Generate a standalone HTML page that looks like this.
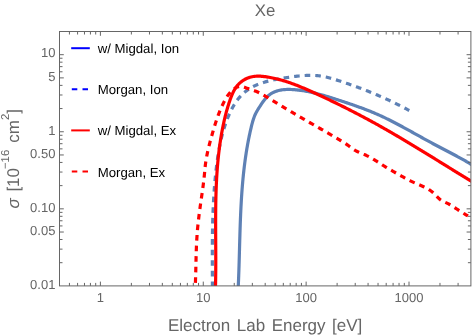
<!DOCTYPE html>
<html><head><meta charset="utf-8"><title>Xe</title><style>html,body{margin:0;padding:0;background:#fff}body{width:476px;height:336px;overflow:hidden;font-family:"Liberation Sans",sans-serif}</style></head><body>
<svg width="476" height="336" viewBox="0 0 476 336" style="display:block;will-change:transform">
<rect width="476" height="336" fill="#fff"/>
<defs><clipPath id="c"><rect x="59.50" y="31.50" width="411.40" height="254.40"/></clipPath></defs>
<g clip-path="url(#c)" fill="none" stroke-width="3.20" stroke-linejoin="round">
<path d="M237.99 291.93 L238.05 290.86 L238.10 289.79 L238.16 288.72 L238.21 287.65 L238.26 286.58 L238.30 285.51 L238.35 284.44 L238.40 283.37 L238.44 282.30 L238.49 281.23 L238.53 280.16 L238.57 279.08 L238.61 278.01 L238.66 276.94 L238.69 275.86 L238.73 274.79 L238.77 273.71 L238.81 272.64 L238.85 271.56 L238.88 270.49 L238.92 269.41 L238.95 268.33 L238.99 267.26 L239.02 266.18 L239.05 265.10 L239.08 264.03 L239.12 262.95 L239.15 261.87 L239.18 260.79 L239.21 259.71 L239.24 258.63 L239.27 257.56 L239.30 256.48 L239.33 255.40 L239.36 254.32 L239.39 253.24 L239.42 252.16 L239.45 251.08 L239.48 250.00 L239.51 248.92 L239.53 247.84 L239.56 246.75 L239.59 245.67 L239.62 244.59 L239.65 243.51 L239.68 242.43 L239.71 241.35 L239.74 240.27 L239.77 239.18 L239.80 238.10 L239.84 237.02 L239.87 235.94 L239.90 234.86 L239.93 233.77 L239.96 232.69 L240.00 231.61 L240.03 230.53 L240.07 229.45 L240.10 228.36 L240.14 227.28 L240.18 226.20 L240.21 225.12 L240.25 224.04 L240.29 222.95 L240.33 221.87 L240.37 220.79 L240.41 219.71 L240.45 218.63 L240.50 217.54 L240.54 216.46 L240.59 215.38 L240.63 214.30 L240.68 213.22 L240.73 212.14 L240.78 211.05 L240.83 209.97 L240.89 208.89 L240.94 207.81 L240.99 206.73 L241.05 205.65 L241.11 204.57 L241.17 203.49 L241.23 202.41 L241.29 201.33 L241.35 200.25 L241.42 199.17 L241.49 198.09 L241.55 197.01 L241.62 195.93 L241.70 194.86 L241.77 193.78 L241.85 192.70 L241.92 191.62 L242.00 190.55 L242.08 189.47 L242.16 188.39 L242.25 187.31 L242.34 186.24 L242.42 185.16 L242.51 184.09 L242.61 183.01 L242.70 181.94 L242.80 180.86 L242.90 179.79 L243.00 178.71 L243.10 177.64 L243.21 176.57 L243.31 175.50 L243.42 174.42 L243.54 173.35 L243.65 172.28 L243.77 171.21 L243.89 170.14 L244.01 169.07 L244.14 168.00 L244.26 166.93 L244.39 165.86 L244.53 164.79 L244.66 163.72 L244.80 162.66 L244.94 161.59 L245.08 160.52 L245.23 159.46 L245.38 158.39 L245.53 157.33 L245.69 156.26 L245.84 155.20 L246.00 154.14 L246.17 153.07 L246.33 152.01 L246.50 150.95 L246.68 149.89 L246.85 148.83 L247.03 147.77 L247.22 146.71 L247.40 145.65 L247.59 144.59 L247.78 143.54 L247.98 142.48 L248.18 141.42 L248.38 140.37 L248.59 139.31 L248.80 138.26 L249.01 137.21 L249.22 136.15 L249.44 135.10 L249.67 134.05 L249.90 133.00 L250.13 131.95 L250.36 130.90 L250.60 129.85 L250.84 128.81 L251.09 127.76 L251.34 126.71 L251.59 125.67 L251.85 124.63 L252.12 123.59 L252.40 122.55 L252.69 121.52 L253.00 120.49 L253.32 119.47 L253.66 118.46 L254.01 117.46 L254.39 116.46 L254.80 115.48 L255.22 114.51 L255.68 113.55 L256.16 112.60 L256.67 111.66 L257.21 110.73 L257.76 109.80 L258.33 108.87 L258.92 107.93 L259.52 106.99 L260.12 106.04 L260.74 105.09 L261.37 104.13 L262.01 103.18 L262.67 102.23 L263.34 101.30 L264.02 100.39 L264.73 99.50 L265.45 98.63 L266.19 97.80 L266.95 97.00 L267.73 96.25 L268.53 95.54 L269.36 94.88 L270.21 94.26 L271.08 93.69 L271.97 93.16 L272.87 92.67 L273.80 92.22 L274.74 91.81 L275.70 91.44 L276.67 91.10 L277.66 90.80 L278.66 90.54 L279.68 90.30 L280.70 90.10 L281.74 89.92 L282.78 89.78 L283.84 89.66 L284.90 89.57 L285.97 89.50 L287.05 89.46 L288.13 89.44 L289.22 89.44 L290.31 89.46 L291.40 89.49 L292.50 89.55 L293.59 89.62 L294.69 89.71 L295.79 89.80 L296.88 89.92 L297.97 90.04 L299.06 90.17 L300.14 90.31 L301.23 90.46 L302.31 90.62 L303.38 90.79 L304.45 90.96 L305.53 91.15 L306.59 91.34 L307.66 91.54 L308.72 91.75 L309.78 91.97 L310.84 92.19 L311.89 92.42 L312.95 92.66 L314.00 92.91 L315.05 93.16 L316.10 93.41 L317.14 93.68 L318.19 93.94 L319.23 94.22 L320.27 94.50 L321.31 94.78 L322.34 95.07 L323.38 95.36 L324.41 95.66 L325.45 95.96 L326.48 96.27 L327.51 96.58 L328.54 96.89 L329.57 97.21 L330.60 97.52 L331.63 97.85 L332.65 98.17 L333.68 98.50 L334.71 98.83 L335.73 99.16 L336.76 99.49 L337.78 99.82 L338.81 100.16 L339.83 100.49 L340.85 100.83 L341.88 101.17 L342.90 101.51 L343.93 101.85 L344.95 102.19 L345.97 102.53 L347.00 102.87 L348.02 103.21 L349.04 103.56 L350.06 103.91 L351.08 104.26 L352.11 104.61 L353.13 104.96 L354.14 105.32 L355.16 105.67 L356.18 106.03 L357.20 106.39 L358.21 106.76 L359.23 107.13 L360.24 107.50 L361.25 107.87 L362.27 108.24 L363.28 108.62 L364.29 109.00 L365.29 109.39 L366.30 109.77 L367.30 110.17 L368.31 110.56 L369.31 110.96 L370.31 111.36 L371.31 111.77 L372.31 112.17 L373.30 112.59 L374.30 113.01 L375.29 113.43 L376.28 113.85 L377.26 114.28 L378.25 114.72 L379.23 115.16 L380.22 115.60 L381.20 116.05 L382.17 116.51 L383.15 116.96 L384.12 117.42 L385.10 117.89 L386.07 118.36 L387.04 118.83 L388.01 119.30 L388.97 119.78 L389.94 120.26 L390.90 120.75 L391.86 121.24 L392.82 121.73 L393.78 122.22 L394.74 122.72 L395.70 123.22 L396.66 123.72 L397.61 124.22 L398.57 124.73 L399.52 125.24 L400.47 125.75 L401.42 126.26 L402.37 126.77 L403.32 127.29 L404.27 127.81 L405.22 128.33 L406.17 128.85 L407.11 129.37 L408.06 129.89 L409.01 130.41 L409.95 130.94 L410.90 131.46 L411.84 131.99 L412.79 132.51 L413.73 133.04 L414.68 133.57 L415.62 134.09 L416.57 134.62 L417.51 135.15 L418.46 135.67 L419.40 136.20 L420.35 136.72 L421.29 137.25 L422.24 137.77 L423.18 138.30 L424.13 138.82 L425.07 139.34 L426.02 139.86 L426.97 140.38 L427.92 140.90 L428.86 141.42 L429.81 141.94 L430.76 142.45 L431.71 142.96 L432.66 143.47 L433.62 143.98 L434.57 144.49 L435.52 144.99 L436.48 145.49 L437.43 146.00 L438.38 146.50 L439.34 147.00 L440.30 147.50 L441.25 148.00 L442.21 148.50 L443.16 148.99 L444.12 149.49 L445.07 149.99 L446.03 150.49 L446.99 150.99 L447.94 151.49 L448.89 151.99 L449.85 152.49 L450.80 152.99 L451.76 153.49 L452.71 154.00 L453.66 154.50 L454.61 155.01 L455.56 155.52 L456.51 156.03 L457.46 156.54 L458.41 157.05 L459.36 157.57 L460.30 158.09 L461.24 158.61 L462.19 159.13 L463.13 159.66 L464.07 160.19 L465.01 160.73 L465.94 161.26 L466.88 161.80 L467.81 162.35 L468.74 162.89 L469.67 163.45 L470.60 164.00 L471.53 164.56 L472.45 165.13 L473.37 165.70 L474.29 166.27 L475.21 166.85 L476.13 167.43 L477.04 168.02 L477.95 168.62" stroke="#5E81B5"/>
<path d="M212.45 291.95 L212.44 291.01 L212.44 290.06 L212.44 289.11 L212.44 288.17 L212.43 287.22 L212.43 286.27 L212.42 285.32 L212.42 284.37 L212.42 283.42 L212.41 282.47 L212.41 281.52 L212.40 280.57 L212.40 279.62 L212.39 278.67 L212.39 277.72 L212.39 276.77 L212.38 275.81 L212.38 274.86 L212.37 273.91 L212.37 272.96 L212.36 272.00 L212.36 271.05 L212.36 270.10 L212.35 269.14 L212.35 268.19 L212.35 267.23 L212.34 266.28 L212.34 265.32 L212.34 264.37 L212.33 263.41 L212.33 262.45 L212.33 261.50 L212.33 260.54 L212.33 259.59 L212.32 258.63 L212.32 257.67 L212.32 256.71 L212.32 255.76 L212.32 254.80 L212.32 253.84 L212.33 252.88 L212.33 251.93 L212.33 250.97 L212.33 250.01 L212.34 249.05 L212.34 248.09 L212.34 247.13 L212.35 246.18 L212.35 245.22 L212.36 244.26 L212.37 243.30 L212.37 242.34 L212.38 241.38 L212.39 240.42 L212.40 239.46 L212.41 238.50 L212.42 237.54 L212.43 236.58 L212.44 235.62 L212.46 234.67 L212.47 233.71 L212.48 232.75 L212.50 231.79 L212.52 230.83 L212.53 229.87 L212.55 228.91 L212.57 227.95 L212.59 226.99 L212.61 226.03 L212.63 225.07 L212.65 224.11 L212.68 223.15 L212.70 222.19 L212.73 221.23 L212.75 220.28 L212.78 219.32 L212.81 218.36 L212.84 217.40 L212.87 216.44 L212.90 215.48 L212.94 214.52 L212.97 213.57 L213.01 212.61 L213.04 211.65 L213.08 210.69 L213.12 209.74 L213.16 208.78 L213.20 207.82 L213.25 206.86 L213.29 205.91 L213.34 204.95 L213.38 203.99 L213.43 203.04 L213.48 202.08 L213.53 201.13 L213.58 200.17 L213.64 199.22 L213.69 198.26 L213.75 197.31 L213.81 196.35 L213.87 195.40 L213.93 194.44 L213.99 193.49 L214.06 192.54 L214.12 191.58 L214.19 190.63 L214.26 189.68 L214.33 188.72 L214.40 187.77 L214.48 186.82 L214.55 185.87 L214.63 184.92 L214.71 183.97 L214.79 183.02 L214.87 182.07 L214.96 181.12 L215.04 180.17 L215.13 179.22 L215.22 178.27 L215.31 177.33 L215.41 176.38 L215.50 175.43 L215.60 174.49 L215.70 173.54 L215.80 172.59 L215.90 171.65 L216.01 170.70 L216.11 169.76 L216.22 168.82 L216.33 167.87 L216.45 166.93 L216.56 165.99 L216.68 165.05 L216.80 164.10 L216.92 163.16 L217.04 162.22 L217.17 161.28 L217.30 160.34 L217.43 159.40 L217.56 158.47 L217.70 157.53 L217.84 156.59 L217.99 155.65 L218.13 154.71 L218.28 153.78 L218.44 152.84 L218.60 151.91 L218.76 150.97 L218.92 150.04 L219.09 149.10 L219.26 148.17 L219.44 147.23 L219.62 146.30 L219.80 145.37 L219.99 144.44 L220.19 143.50 L220.39 142.57 L220.59 141.64 L220.80 140.71 L221.01 139.78 L221.23 138.85 L221.45 137.92 L221.68 136.99 L221.91 136.06 L222.15 135.13 L222.40 134.20 L222.64 133.27 L222.90 132.34 L223.16 131.42 L223.43 130.49 L223.70 129.56 L223.98 128.63 L224.27 127.71 L224.56 126.78 L224.86 125.85 L225.16 124.93 L225.47 124.00 L225.79 123.08 L226.12 122.15 L226.45 121.23 L226.79 120.31 L227.14 119.40 L227.49 118.48 L227.85 117.57 L228.22 116.66 L228.60 115.76 L228.99 114.86 L229.38 113.96 L229.79 113.07 L230.20 112.18 L230.62 111.31 L231.05 110.43 L231.49 109.57 L231.94 108.71 L232.39 107.85 L232.86 107.01 L233.34 106.17 L233.82 105.35 L234.32 104.53 L234.83 103.72 L235.35 102.92 L235.87 102.13 L236.41 101.35 L236.96 100.58 L237.52 99.82 L238.10 99.08 L238.68 98.34 L239.27 97.62 L239.88 96.92 L240.50 96.22 L241.13 95.54 L241.77 94.87 L242.42 94.22 L243.09 93.58 L243.77 92.95 L244.46 92.35 L245.17 91.75 L245.88 91.18 L246.61 90.62 L247.36 90.08 L248.11 89.55 L248.88 89.04 L249.66 88.54 L250.46 88.06 L251.26 87.59 L252.07 87.14 L252.90 86.71 L253.73 86.28 L254.58 85.87 L255.43 85.48 L256.29 85.09 L257.16 84.72 L258.04 84.36 L258.93 84.01 L259.82 83.68 L260.73 83.35 L261.63 83.04 L262.55 82.74 L263.47 82.44 L264.40 82.16 L265.33 81.89 L266.27 81.62 L267.21 81.37 L268.16 81.12 L269.11 80.88 L270.06 80.65 L271.02 80.43 L271.98 80.21 L272.94 80.00 L273.91 79.80 L274.88 79.60 L275.84 79.41 L276.81 79.23 L277.78 79.05 L278.76 78.87 L279.73 78.70 L280.70 78.54 L281.67 78.38 L282.64 78.22 L283.60 78.06 L284.57 77.91 L285.53 77.76 L286.49 77.62 L287.45 77.47 L288.41 77.33 L289.36 77.19 L290.31 77.05 L291.26 76.92 L292.21 76.79 L293.15 76.66 L294.10 76.53 L295.04 76.42 L295.98 76.30 L296.92 76.19 L297.85 76.09 L298.79 75.99 L299.73 75.90 L300.66 75.81 L301.60 75.73 L302.54 75.65 L303.47 75.59 L304.41 75.53 L305.35 75.48 L306.28 75.43 L307.22 75.40 L308.16 75.37 L309.10 75.35 L310.04 75.34 L310.98 75.34 L311.92 75.36 L312.87 75.38 L313.81 75.41 L314.75 75.46 L315.70 75.51 L316.64 75.58 L317.58 75.66 L318.52 75.76 L319.46 75.86 L320.40 75.98 L321.33 76.12 L322.27 76.27 L323.20 76.44 L324.13 76.62 L325.06 76.81 L325.99 77.01 L326.92 77.23 L327.85 77.46 L328.77 77.69 L329.70 77.94 L330.62 78.20 L331.54 78.46 L332.46 78.73 L333.38 79.00 L334.30 79.29 L335.22 79.57 L336.13 79.86 L337.05 80.15 L337.96 80.45 L338.88 80.75 L339.79 81.04 L340.71 81.34 L341.62 81.64 L342.53 81.94 L343.44 82.25 L344.35 82.55 L345.26 82.86 L346.17 83.17 L347.08 83.47 L347.99 83.78 L348.90 84.10 L349.80 84.41 L350.71 84.73 L351.61 85.04 L352.51 85.36 L353.42 85.68 L354.32 86.00 L355.22 86.33 L356.12 86.65 L357.02 86.98 L357.92 87.31 L358.81 87.64 L359.71 87.98 L360.60 88.31 L361.50 88.65 L362.39 88.99 L363.28 89.33 L364.17 89.68 L365.06 90.03 L365.95 90.37 L366.84 90.72 L367.73 91.08 L368.61 91.43 L369.50 91.79 L370.38 92.15 L371.26 92.51 L372.15 92.87 L373.03 93.24 L373.91 93.60 L374.79 93.97 L375.66 94.34 L376.54 94.72 L377.42 95.09 L378.29 95.47 L379.17 95.85 L380.04 96.23 L380.92 96.61 L381.79 97.00 L382.66 97.39 L383.53 97.78 L384.40 98.17 L385.27 98.57 L386.13 98.96 L387.00 99.36 L387.87 99.76 L388.73 100.17 L389.60 100.57 L390.46 100.98 L391.32 101.39 L392.19 101.80 L393.05 102.21 L393.91 102.63 L394.77 103.05 L395.63 103.47 L396.48 103.89 L397.34 104.32 L398.20 104.74 L399.05 105.17 L399.91 105.60 L400.76 106.04 L401.62 106.47 L402.47 106.91 L403.32 107.35 L404.17 107.79 L405.02 108.24 L405.87 108.69 L406.72 109.14 L407.57 109.59 L408.42 110.04 L409.27 110.50" stroke="#5E81B5" stroke-dasharray="5.6 5.0" stroke-dashoffset="5.7"/>
<path d="M215.33 291.97 L215.37 290.78 L215.41 289.58 L215.44 288.38 L215.47 287.18 L215.50 285.98 L215.53 284.78 L215.56 283.58 L215.59 282.38 L215.61 281.18 L215.63 279.98 L215.65 278.78 L215.67 277.58 L215.68 276.38 L215.70 275.18 L215.71 273.97 L215.73 272.77 L215.74 271.57 L215.75 270.37 L215.75 269.16 L215.76 267.96 L215.77 266.76 L215.77 265.55 L215.77 264.35 L215.78 263.14 L215.78 261.94 L215.78 260.73 L215.78 259.53 L215.78 258.32 L215.78 257.12 L215.77 255.91 L215.77 254.71 L215.77 253.50 L215.76 252.29 L215.76 251.09 L215.75 249.88 L215.75 248.68 L215.74 247.47 L215.74 246.26 L215.73 245.06 L215.72 243.85 L215.72 242.64 L215.71 241.43 L215.70 240.23 L215.70 239.02 L215.69 237.81 L215.68 236.60 L215.68 235.40 L215.67 234.19 L215.67 232.98 L215.66 231.77 L215.66 230.57 L215.65 229.36 L215.65 228.15 L215.65 226.94 L215.64 225.74 L215.64 224.53 L215.64 223.32 L215.64 222.11 L215.64 220.91 L215.64 219.70 L215.65 218.49 L215.65 217.28 L215.65 216.08 L215.66 214.87 L215.67 213.66 L215.68 212.46 L215.69 211.25 L215.70 210.04 L215.71 208.84 L215.72 207.63 L215.74 206.42 L215.75 205.22 L215.77 204.01 L215.79 202.80 L215.81 201.60 L215.84 200.39 L215.86 199.19 L215.89 197.98 L215.92 196.78 L215.95 195.57 L215.98 194.37 L216.02 193.16 L216.06 191.96 L216.10 190.76 L216.14 189.55 L216.18 188.35 L216.23 187.15 L216.28 185.94 L216.33 184.74 L216.38 183.54 L216.44 182.34 L216.50 181.14 L216.56 179.93 L216.62 178.73 L216.69 177.53 L216.76 176.33 L216.83 175.13 L216.91 173.93 L216.99 172.73 L217.07 171.53 L217.16 170.33 L217.25 169.14 L217.34 167.94 L217.43 166.74 L217.53 165.54 L217.63 164.35 L217.74 163.15 L217.84 161.96 L217.96 160.76 L218.07 159.56 L218.19 158.37 L218.31 157.18 L218.44 155.98 L218.57 154.79 L218.70 153.60 L218.84 152.40 L218.98 151.21 L219.13 150.02 L219.28 148.83 L219.43 147.64 L219.59 146.45 L219.76 145.26 L219.92 144.07 L220.09 142.88 L220.27 141.70 L220.45 140.51 L220.63 139.32 L220.82 138.14 L221.02 136.95 L221.22 135.77 L221.42 134.58 L221.63 133.40 L221.84 132.22 L222.06 131.04 L222.28 129.85 L222.51 128.67 L222.74 127.49 L222.98 126.31 L223.22 125.13 L223.47 123.96 L223.72 122.78 L223.98 121.60 L224.24 120.42 L224.52 119.25 L224.79 118.07 L225.08 116.90 L225.37 115.72 L225.67 114.55 L225.97 113.37 L226.28 112.20 L226.60 111.02 L226.93 109.85 L227.27 108.68 L227.61 107.50 L227.97 106.33 L228.33 105.16 L228.70 103.98 L229.08 102.81 L229.47 101.63 L229.87 100.46 L230.28 99.29 L230.70 98.12 L231.14 96.95 L231.60 95.80 L232.07 94.66 L232.57 93.53 L233.09 92.42 L233.63 91.33 L234.20 90.27 L234.80 89.23 L235.43 88.21 L236.09 87.23 L236.79 86.28 L237.53 85.37 L238.30 84.50 L239.11 83.67 L239.95 82.87 L240.82 82.12 L241.73 81.41 L242.67 80.74 L243.63 80.11 L244.62 79.53 L245.64 78.99 L246.68 78.49 L247.74 78.04 L248.83 77.64 L249.93 77.28 L251.05 76.98 L252.19 76.72 L253.34 76.51 L254.51 76.35 L255.68 76.23 L256.87 76.17 L258.07 76.14 L259.27 76.16 L260.48 76.21 L261.69 76.29 L262.91 76.40 L264.13 76.54 L265.35 76.70 L266.56 76.88 L267.77 77.07 L268.98 77.27 L270.18 77.49 L271.38 77.72 L272.58 77.96 L273.77 78.22 L274.95 78.48 L276.14 78.76 L277.32 79.05 L278.49 79.34 L279.66 79.65 L280.83 79.97 L281.99 80.30 L283.15 80.64 L284.31 80.99 L285.47 81.34 L286.62 81.71 L287.77 82.08 L288.91 82.47 L290.05 82.86 L291.19 83.25 L292.33 83.66 L293.46 84.07 L294.59 84.50 L295.72 84.92 L296.85 85.36 L297.97 85.80 L299.09 86.24 L300.21 86.70 L301.33 87.15 L302.44 87.62 L303.56 88.08 L304.67 88.56 L305.77 89.03 L306.88 89.52 L307.99 90.00 L309.09 90.49 L310.19 90.98 L311.30 91.48 L312.40 91.98 L313.49 92.48 L314.59 92.98 L315.69 93.49 L316.78 93.99 L317.88 94.50 L318.97 95.01 L320.06 95.52 L321.16 96.04 L322.25 96.55 L323.34 97.06 L324.43 97.58 L325.52 98.09 L326.60 98.61 L327.69 99.13 L328.78 99.65 L329.87 100.17 L330.95 100.69 L332.04 101.21 L333.12 101.73 L334.20 102.26 L335.29 102.78 L336.37 103.31 L337.45 103.84 L338.53 104.37 L339.61 104.90 L340.69 105.43 L341.77 105.96 L342.84 106.49 L343.92 107.03 L345.00 107.56 L346.07 108.10 L347.15 108.64 L348.22 109.18 L349.29 109.72 L350.36 110.27 L351.43 110.81 L352.51 111.36 L353.57 111.91 L354.64 112.46 L355.71 113.01 L356.78 113.56 L357.85 114.11 L358.91 114.67 L359.98 115.23 L361.04 115.79 L362.10 116.35 L363.16 116.91 L364.23 117.47 L365.29 118.04 L366.35 118.61 L367.41 119.18 L368.46 119.75 L369.52 120.32 L370.58 120.90 L371.63 121.48 L372.69 122.05 L373.74 122.63 L374.80 123.21 L375.85 123.80 L376.90 124.38 L377.95 124.97 L379.00 125.56 L380.05 126.15 L381.10 126.74 L382.15 127.33 L383.20 127.92 L384.25 128.52 L385.29 129.11 L386.34 129.71 L387.38 130.31 L388.43 130.91 L389.47 131.51 L390.52 132.11 L391.56 132.72 L392.60 133.32 L393.64 133.93 L394.68 134.54 L395.73 135.15 L396.77 135.75 L397.80 136.37 L398.84 136.98 L399.88 137.59 L400.92 138.20 L401.96 138.82 L402.99 139.43 L404.03 140.05 L405.07 140.67 L406.10 141.29 L407.14 141.91 L408.17 142.53 L409.21 143.15 L410.24 143.77 L411.27 144.39 L412.31 145.02 L413.34 145.64 L414.37 146.26 L415.40 146.89 L416.43 147.51 L417.46 148.14 L418.50 148.77 L419.53 149.40 L420.56 150.02 L421.59 150.65 L422.62 151.28 L423.64 151.91 L424.67 152.54 L425.70 153.17 L426.73 153.80 L427.76 154.44 L428.79 155.07 L429.81 155.70 L430.84 156.33 L431.87 156.96 L432.89 157.60 L433.92 158.23 L434.95 158.86 L435.97 159.50 L437.00 160.13 L438.03 160.76 L439.05 161.40 L440.08 162.03 L441.10 162.67 L442.13 163.30 L443.15 163.93 L444.18 164.57 L445.20 165.20 L446.23 165.84 L447.25 166.47 L448.28 167.10 L449.30 167.74 L450.33 168.37 L451.35 169.00 L452.38 169.64 L453.40 170.27 L454.43 170.90 L455.45 171.53 L456.48 172.17 L457.50 172.80 L458.53 173.43 L459.55 174.06 L460.58 174.69 L461.60 175.32 L462.62 175.95 L463.65 176.58 L464.68 177.21 L465.70 177.84 L466.73 178.46 L467.75 179.09 L468.78 179.72 L469.80 180.34 L470.83 180.97 L471.85 181.59 L472.88 182.22 L473.91 182.84 L474.93 183.46 L475.96 184.08 L476.99 184.70 L478.01 185.32" stroke="#ff0000"/>
<path d="M194.98 292.00 L195.05 290.80 L195.11 289.60 L195.17 288.40 L195.23 287.20 L195.28 286.00 L195.34 284.79 L195.38 283.59 L195.43 282.39 L195.47 281.19 L195.51 279.99 L195.55 278.78 L195.59 277.58 L195.62 276.38 L195.66 275.17 L195.69 273.97 L195.72 272.76 L195.75 271.56 L195.78 270.36 L195.81 269.15 L195.84 267.95 L195.86 266.74 L195.89 265.54 L195.92 264.33 L195.95 263.13 L195.97 261.92 L196.00 260.72 L196.03 259.51 L196.06 258.31 L196.09 257.10 L196.13 255.90 L196.16 254.69 L196.20 253.49 L196.23 252.29 L196.27 251.08 L196.31 249.88 L196.36 248.67 L196.40 247.47 L196.45 246.27 L196.50 245.07 L196.56 243.86 L196.62 242.66 L196.68 241.46 L196.74 240.26 L196.81 239.06 L196.88 237.86 L196.96 236.66 L197.04 235.46 L197.12 234.26 L197.21 233.06 L197.30 231.86 L197.40 230.66 L197.50 229.46 L197.61 228.27 L197.72 227.07 L197.84 225.88 L197.96 224.68 L198.09 223.48 L198.22 222.29 L198.35 221.10 L198.49 219.90 L198.63 218.71 L198.77 217.52 L198.91 216.32 L199.06 215.13 L199.21 213.94 L199.37 212.75 L199.53 211.55 L199.68 210.36 L199.84 209.17 L200.01 207.98 L200.17 206.79 L200.34 205.60 L200.50 204.41 L200.67 203.21 L200.84 202.02 L201.01 200.83 L201.18 199.64 L201.35 198.45 L201.52 197.26 L201.69 196.07 L201.86 194.88 L202.03 193.69 L202.20 192.50 L202.37 191.30 L202.53 190.11 L202.70 188.92 L202.86 187.73 L203.02 186.54 L203.18 185.34 L203.33 184.15 L203.48 182.96 L203.63 181.76 L203.77 180.57 L203.91 179.38 L204.04 178.18 L204.17 176.99 L204.29 175.79 L204.41 174.59 L204.52 173.40 L204.63 172.20 L204.74 171.01 L204.85 169.81 L204.96 168.61 L205.08 167.42 L205.21 166.22 L205.35 165.03 L205.50 163.84 L205.66 162.65 L205.83 161.45 L206.02 160.27 L206.21 159.08 L206.42 157.89 L206.64 156.71 L206.87 155.52 L207.10 154.34 L207.35 153.16 L207.60 151.98 L207.86 150.80 L208.13 149.62 L208.41 148.45 L208.69 147.27 L208.98 146.10 L209.28 144.93 L209.58 143.76 L209.88 142.59 L210.19 141.43 L210.51 140.26 L210.83 139.10 L211.15 137.94 L211.47 136.78 L211.80 135.62 L212.13 134.46 L212.46 133.31 L212.79 132.16 L213.12 131.01 L213.46 129.86 L213.80 128.71 L214.14 127.57 L214.49 126.42 L214.84 125.28 L215.19 124.14 L215.55 123.01 L215.92 121.87 L216.30 120.74 L216.68 119.61 L217.06 118.48 L217.46 117.35 L217.86 116.22 L218.28 115.10 L218.70 113.97 L219.13 112.85 L219.57 111.73 L220.02 110.61 L220.49 109.50 L220.96 108.39 L221.45 107.27 L221.95 106.16 L222.46 105.05 L222.99 103.95 L223.53 102.84 L224.09 101.75 L224.66 100.66 L225.25 99.58 L225.87 98.52 L226.51 97.47 L227.17 96.45 L227.85 95.45 L228.57 94.47 L229.31 93.53 L230.09 92.62 L230.89 91.74 L231.74 90.90 L232.61 90.11 L233.53 89.36 L234.48 88.66 L235.48 88.00 L236.51 87.41 L237.58 86.92 L238.69 86.56 L239.82 86.37 L240.98 86.39 L242.15 86.58 L243.33 86.90 L244.52 87.30 L245.71 87.73 L246.89 88.15 L248.06 88.55 L249.23 88.94 L250.38 89.32 L251.53 89.70 L252.66 90.08 L253.78 90.47 L254.90 90.89 L256.00 91.33 L257.09 91.80 L258.17 92.30 L259.25 92.83 L260.31 93.38 L261.37 93.95 L262.43 94.53 L263.48 95.12 L264.52 95.72 L265.56 96.33 L266.60 96.94 L267.64 97.55 L268.68 98.16 L269.71 98.78 L270.75 99.40 L271.78 100.02 L272.81 100.65 L273.84 101.27 L274.86 101.90 L275.89 102.53 L276.92 103.15 L277.94 103.78 L278.97 104.41 L280.00 105.04 L281.02 105.67 L282.05 106.29 L283.08 106.92 L284.11 107.54 L285.14 108.16 L286.17 108.78 L287.20 109.40 L288.23 110.02 L289.27 110.64 L290.30 111.25 L291.34 111.87 L292.37 112.48 L293.41 113.09 L294.44 113.70 L295.48 114.31 L296.52 114.92 L297.56 115.52 L298.60 116.13 L299.64 116.74 L300.68 117.34 L301.72 117.94 L302.76 118.55 L303.80 119.15 L304.84 119.75 L305.88 120.35 L306.92 120.95 L307.97 121.56 L309.01 122.16 L310.05 122.76 L311.09 123.36 L312.14 123.96 L313.18 124.55 L314.22 125.15 L315.27 125.75 L316.31 126.35 L317.35 126.95 L318.40 127.55 L319.44 128.15 L320.48 128.75 L321.52 129.35 L322.57 129.95 L323.61 130.56 L324.65 131.16 L325.69 131.76 L326.73 132.36 L327.77 132.97 L328.81 133.57 L329.85 134.18 L330.89 134.78 L331.93 135.39 L332.97 136.00 L334.01 136.61 L335.05 137.22 L336.08 137.83 L337.12 138.44 L338.16 139.05 L339.19 139.67 L340.22 140.29 L341.25 140.91 L342.28 141.54 L343.30 142.17 L344.31 142.82 L345.32 143.48 L346.32 144.16 L347.31 144.84 L348.28 145.55 L349.26 146.27 L350.22 146.99 L351.19 147.70 L352.17 148.41 L353.15 149.10 L354.15 149.76 L355.17 150.39 L356.20 150.98 L357.27 151.53 L358.35 152.04 L359.45 152.53 L360.56 153.00 L361.67 153.46 L362.79 153.91 L363.91 154.37 L365.02 154.84 L366.12 155.32 L367.21 155.84 L368.29 156.37 L369.35 156.93 L370.41 157.50 L371.45 158.09 L372.49 158.69 L373.52 159.31 L374.55 159.93 L375.57 160.57 L376.59 161.21 L377.61 161.86 L378.62 162.51 L379.63 163.17 L380.65 163.82 L381.66 164.47 L382.68 165.12 L383.70 165.76 L384.72 166.40 L385.75 167.03 L386.78 167.65 L387.81 168.27 L388.85 168.89 L389.89 169.49 L390.93 170.10 L391.97 170.70 L393.02 171.30 L394.06 171.89 L395.11 172.49 L396.15 173.08 L397.20 173.67 L398.25 174.25 L399.29 174.84 L400.34 175.43 L401.38 176.02 L402.43 176.61 L403.47 177.19 L404.51 177.78 L405.56 178.36 L406.60 178.94 L407.66 179.51 L408.72 180.07 L409.78 180.61 L410.86 181.14 L411.95 181.66 L413.04 182.16 L414.15 182.65 L415.26 183.13 L416.37 183.60 L417.49 184.07 L418.61 184.54 L419.72 185.02 L420.84 185.50 L421.94 185.98 L423.04 186.48 L424.13 186.99 L425.21 187.52 L426.28 188.07 L427.33 188.64 L428.37 189.23 L429.38 189.86 L430.38 190.51 L431.35 191.20 L432.30 191.93 L433.22 192.69 L434.11 193.50 L434.98 194.36 L435.82 195.25 L436.65 196.15 L437.48 197.05 L438.32 197.93 L439.19 198.77 L440.09 199.55 L441.05 200.25 L442.06 200.87 L443.12 201.41 L444.20 201.90 L445.31 202.38 L446.41 202.86 L447.50 203.37 L448.58 203.91 L449.63 204.49 L450.67 205.09 L451.71 205.71 L452.73 206.36 L453.74 207.01 L454.75 207.67 L455.76 208.34 L456.77 209.00 L457.78 209.66 L458.79 210.31 L459.80 210.96 L460.82 211.61 L461.84 212.25 L462.86 212.88 L463.88 213.51 L464.91 214.14 L465.94 214.76 L466.97 215.38 L468.00 215.99" stroke="#ff0000" stroke-dasharray="5.6 4.985" stroke-dashoffset="1.5"/>
</g>
<g stroke="#666666" stroke-width="1" fill="none" shape-rendering="auto">
<rect x="59.50" y="31.50" width="411.40" height="254.40"/>
<path d="M69.43 285.90 v-3.00 M69.43 31.50 v3.00 M77.58 285.90 v-3.00 M77.58 31.50 v3.00 M84.47 285.90 v-3.00 M84.47 31.50 v3.00 M90.43 285.90 v-3.00 M90.43 31.50 v3.00 M95.69 285.90 v-3.00 M95.69 31.50 v3.00 M100.40 285.90 v-4.30 M100.40 31.50 v4.30 M131.37 285.90 v-3.00 M131.37 31.50 v3.00 M149.48 285.90 v-3.00 M149.48 31.50 v3.00 M162.33 285.90 v-3.00 M162.33 31.50 v3.00 M172.30 285.90 v-3.00 M172.30 31.50 v3.00 M180.45 285.90 v-3.00 M180.45 31.50 v3.00 M187.34 285.90 v-3.00 M187.34 31.50 v3.00 M193.30 285.90 v-3.00 M193.30 31.50 v3.00 M198.56 285.90 v-3.00 M198.56 31.50 v3.00 M203.27 285.90 v-4.30 M203.27 31.50 v4.30 M234.24 285.90 v-3.00 M234.24 31.50 v3.00 M252.35 285.90 v-3.00 M252.35 31.50 v3.00 M265.20 285.90 v-3.00 M265.20 31.50 v3.00 M275.17 285.90 v-3.00 M275.17 31.50 v3.00 M283.32 285.90 v-3.00 M283.32 31.50 v3.00 M290.21 285.90 v-3.00 M290.21 31.50 v3.00 M296.17 285.90 v-3.00 M296.17 31.50 v3.00 M301.43 285.90 v-3.00 M301.43 31.50 v3.00 M306.14 285.90 v-4.30 M306.14 31.50 v4.30 M337.11 285.90 v-3.00 M337.11 31.50 v3.00 M355.22 285.90 v-3.00 M355.22 31.50 v3.00 M368.07 285.90 v-3.00 M368.07 31.50 v3.00 M378.04 285.90 v-3.00 M378.04 31.50 v3.00 M386.19 285.90 v-3.00 M386.19 31.50 v3.00 M393.08 285.90 v-3.00 M393.08 31.50 v3.00 M399.04 285.90 v-3.00 M399.04 31.50 v3.00 M404.30 285.90 v-3.00 M404.30 31.50 v3.00 M409.01 285.90 v-4.30 M409.01 31.50 v4.30 M439.98 285.90 v-3.00 M439.98 31.50 v3.00 M458.09 285.90 v-3.00 M458.09 31.50 v3.00 M59.50 262.70 h3.00 M470.90 262.70 h-3.00 M59.50 249.13 h3.00 M470.90 249.13 h-3.00 M59.50 239.50 h3.00 M470.90 239.50 h-3.00 M59.50 232.03 h4.30 M470.90 232.03 h-4.30 M59.50 225.93 h3.00 M470.90 225.93 h-3.00 M59.50 220.77 h3.00 M470.90 220.77 h-3.00 M59.50 216.30 h3.00 M470.90 216.30 h-3.00 M59.50 212.36 h3.00 M470.90 212.36 h-3.00 M59.50 208.83 h4.30 M470.90 208.83 h-4.30 M59.50 185.63 h3.00 M470.90 185.63 h-3.00 M59.50 172.06 h3.00 M470.90 172.06 h-3.00 M59.50 162.43 h3.00 M470.90 162.43 h-3.00 M59.50 154.96 h4.30 M470.90 154.96 h-4.30 M59.50 148.86 h3.00 M470.90 148.86 h-3.00 M59.50 143.70 h3.00 M470.90 143.70 h-3.00 M59.50 139.23 h3.00 M470.90 139.23 h-3.00 M59.50 135.29 h3.00 M470.90 135.29 h-3.00 M59.50 131.76 h4.30 M470.90 131.76 h-4.30 M59.50 108.56 h3.00 M470.90 108.56 h-3.00 M59.50 94.99 h3.00 M470.90 94.99 h-3.00 M59.50 85.36 h3.00 M470.90 85.36 h-3.00 M59.50 77.89 h4.30 M470.90 77.89 h-4.30 M59.50 71.79 h3.00 M470.90 71.79 h-3.00 M59.50 66.63 h3.00 M470.90 66.63 h-3.00 M59.50 62.16 h3.00 M470.90 62.16 h-3.00 M59.50 58.22 h3.00 M470.90 58.22 h-3.00 M59.50 54.69 h4.30 M470.90 54.69 h-4.30"/>
</g>
<g font-family="Liberation Sans, sans-serif" fill="#666666" text-rendering="geometricPrecision">
<text x="100.40" y="301.80" font-size="13.00" text-anchor="middle">1</text>
<text x="203.27" y="301.80" font-size="13.00" text-anchor="middle">10</text>
<text x="306.14" y="301.80" font-size="13.00" text-anchor="middle">100</text>
<text x="409.01" y="301.80" font-size="13.00" text-anchor="middle">1000</text>
<text x="55.40" y="57.49" font-size="13.00" text-anchor="end">10</text>
<text x="55.40" y="80.69" font-size="13.00" text-anchor="end">5</text>
<text x="55.40" y="134.56" font-size="13.00" text-anchor="end">1</text>
<text x="55.40" y="157.76" font-size="13.00" text-anchor="end">0.50</text>
<text x="55.40" y="211.63" font-size="13.00" text-anchor="end">0.10</text>
<text x="55.40" y="234.83" font-size="13.00" text-anchor="end">0.05</text>
<text x="55.40" y="288.70" font-size="13.00" text-anchor="end">0.01</text>
<text x="265.00" y="15.60" font-size="16.80" text-anchor="middle">Xe</text>
<text x="265.10" y="330.70" font-size="17.00" text-anchor="middle" word-spacing="1.80">Electron Lab Energy [eV]</text>
<text transform="translate(18.75 158.70) rotate(-90)" font-size="17.00" text-anchor="middle" word-spacing="1.80"><tspan font-style="italic">σ</tspan> [10<tspan font-size="11.40" dy="-9.30" dx="-1.1">−16</tspan><tspan dy="9.30" dx="0.5"> cm</tspan><tspan font-size="11.40" dy="-9.30">2</tspan><tspan dy="9.30">]</tspan></text>
</g>
<g font-family="Liberation Sans, sans-serif" fill="#000" font-size="13.20" text-rendering="geometricPrecision">
<path d="M71.20 48.20 H89.80" stroke="#0000ff" stroke-width="2.00" fill="none"/>
<text x="97.70" y="53.20">w/ Migdal, Ion</text>
<path d="M71.80 89.30 H89.80" stroke="#0000ff" stroke-width="2.00" stroke-dasharray="5.5 5.2" fill="none"/>
<text x="97.70" y="94.30">Morgan, Ion</text>
<path d="M71.20 130.40 H89.80" stroke="#ff0000" stroke-width="2.00" fill="none"/>
<text x="97.70" y="135.40">w/ Migdal, Ex</text>
<path d="M71.80 171.50 H89.80" stroke="#ff0000" stroke-width="2.00" stroke-dasharray="5.5 5.2" fill="none"/>
<text x="97.70" y="176.50">Morgan, Ex</text>
</g>
</svg>
</body></html>
